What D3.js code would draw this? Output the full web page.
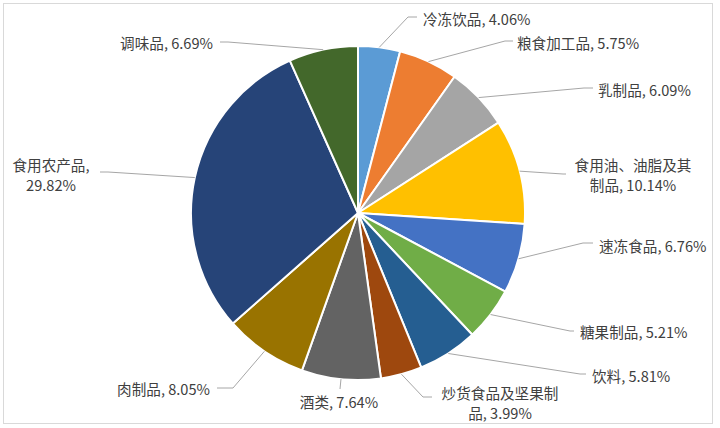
<!DOCTYPE html>
<html>
<head>
<meta charset="utf-8">
<script src="https://cdn.jsdelivr.net/npm/d3@7"></script>
<style>
  html, body { margin: 0; padding: 0; background: #fff; }
  svg { display: block; }
  text { font-family: "Noto Sans CJK SC", "Noto Sans", sans-serif; fill: #404040; }
</style>
</head>
<body>
<svg id="chart" width="720" height="428"></svg>
<script>
// ---- data ----
const categories = ["冷冻饮品", "粮食加工品", "乳制品", "食用油、油脂及其制品", "速冻食品", "糖果制品",
                    "饮料", "炒货食品及坚果制品", "酒类", "肉制品", "食用农产品", "调味品"];
const values = [4.06, 5.75, 6.09, 10.14, 6.76, 5.21, 5.81, 3.99, 7.64, 8.05, 29.82, 6.69];
const colors = ["#5B9BD5", "#ED7D31", "#A5A5A5", "#FFC000", "#4472C4", "#70AD47",
                "#255E91", "#9E480E", "#636363", "#997300", "#264478", "#43682B"];
// label text lines (as displayed, wrapped like the reference)
const labelLines = [
  ["冷冻饮品, 4.06%"],
  ["粮食加工品, 5.75%"],
  ["乳制品, 6.09%"],
  ["食用油、油脂及其", "制品, 10.14%"],
  ["速冻食品, 6.76%"],
  ["糖果制品, 5.21%"],
  ["饮料, 5.81%"],
  ["炒货食品及坚果制", "品, 3.99%"],
  ["酒类, 7.64%"],
  ["肉制品, 8.05%"],
  ["食用农产品,", "29.82%"],
  ["调味品, 6.69%"]
];

// ---- layout (positions only) ----
const W = 720, H = 428;
const cx = 358, cy = 213, R = 167;
const lineH = 20;
// label placement: text x,y (first line centre), anchor, leader elbow & end
const labelLayout = [
  { x: 423, y: 18,  anchor: "start",  elbow: [408, 17],  end: [417, 17] },
  { x: 517, y: 42,  anchor: "start",  elbow: [505, 41],  end: [513, 41] },
  { x: 598, y: 89,  anchor: "start",  elbow: [584, 88],  end: [593, 88] },
  { x: 633, y: 164, anchor: "middle", elbow: [563, 174], end: [566, 174] },
  { x: 599, y: 245, anchor: "start",  elbow: [583, 243], end: [593, 243] },
  { x: 580, y: 331, anchor: "start",  elbow: [570, 331], end: [574, 331] },
  { x: 592, y: 375, anchor: "start",  elbow: [580, 374], end: [586, 374] },
  { x: 500, y: 392, anchor: "middle", elbow: [423, 397], end: [432, 397] },
  { x: 339, y: 401, anchor: "middle", elbow: [340, 389], end: [340, 389] },
  { x: 210, y: 388, anchor: "end",    elbow: [233, 388], end: [217, 388] },
  { x: 51,  y: 164, anchor: "middle", elbow: [108, 172], end: [100, 172] },
  { x: 213, y: 42,  anchor: "end",    elbow: [228, 42],  end: [220, 42] }
];

const data = categories.map((c, i) => ({ name: c, value: values[i], color: colors[i], lines: labelLines[i], lay: labelLayout[i] }));

const svg = d3.select("#chart");

// chart border
svg.append("rect")
  .attr("x", 3.5).attr("y", 3.5)
  .attr("width", 709).attr("height", 420)
  .attr("fill", "#fff")
  .attr("stroke", "#d9d9d9").attr("stroke-width", 1);

const pie = d3.pie().value(d => d.value).sort(null);
const arc = d3.arc().innerRadius(0).outerRadius(R);
const arcs = pie(data);

const g = svg.append("g").attr("transform", `translate(${cx},${cy})`);
g.selectAll("path.slice")
  .data(arcs)
  .join("path")
  .attr("class", "slice")
  .attr("d", arc)
  .attr("fill", d => d.data.color)
  .attr("stroke", "#fff")
  .attr("stroke-width", 2)
  .attr("stroke-linejoin", "round");

// leader lines
svg.append("g").selectAll("polyline")
  .data(arcs)
  .join("polyline")
  .attr("points", d => {
    const a = (d.startAngle + d.endAngle) / 2;
    const p = [cx + R * Math.sin(a), cy - R * Math.cos(a)];
    const L = d.data.lay;
    return [p, L.elbow, L.end].map(q => q.join(",")).join(" ");
  })
  .attr("fill", "none")
  .attr("stroke", "#a6a6a6")
  .attr("stroke-width", 1);

// labels
const lbl = svg.append("g").selectAll("text")
  .data(arcs)
  .join("text")
  .attr("text-anchor", d => d.data.lay.anchor)
  .attr("font-size", 14.6);
lbl.each(function(d) {
  const t = d3.select(this);
  d.data.lines.forEach((s, k) => {
    t.append("tspan")
      .attr("x", d.data.lay.x)
      .attr("y", d.data.lay.y + k * lineH)
      .attr("dominant-baseline", "central")
      .text(s);
  });
});
</script>
</body>
</html>
